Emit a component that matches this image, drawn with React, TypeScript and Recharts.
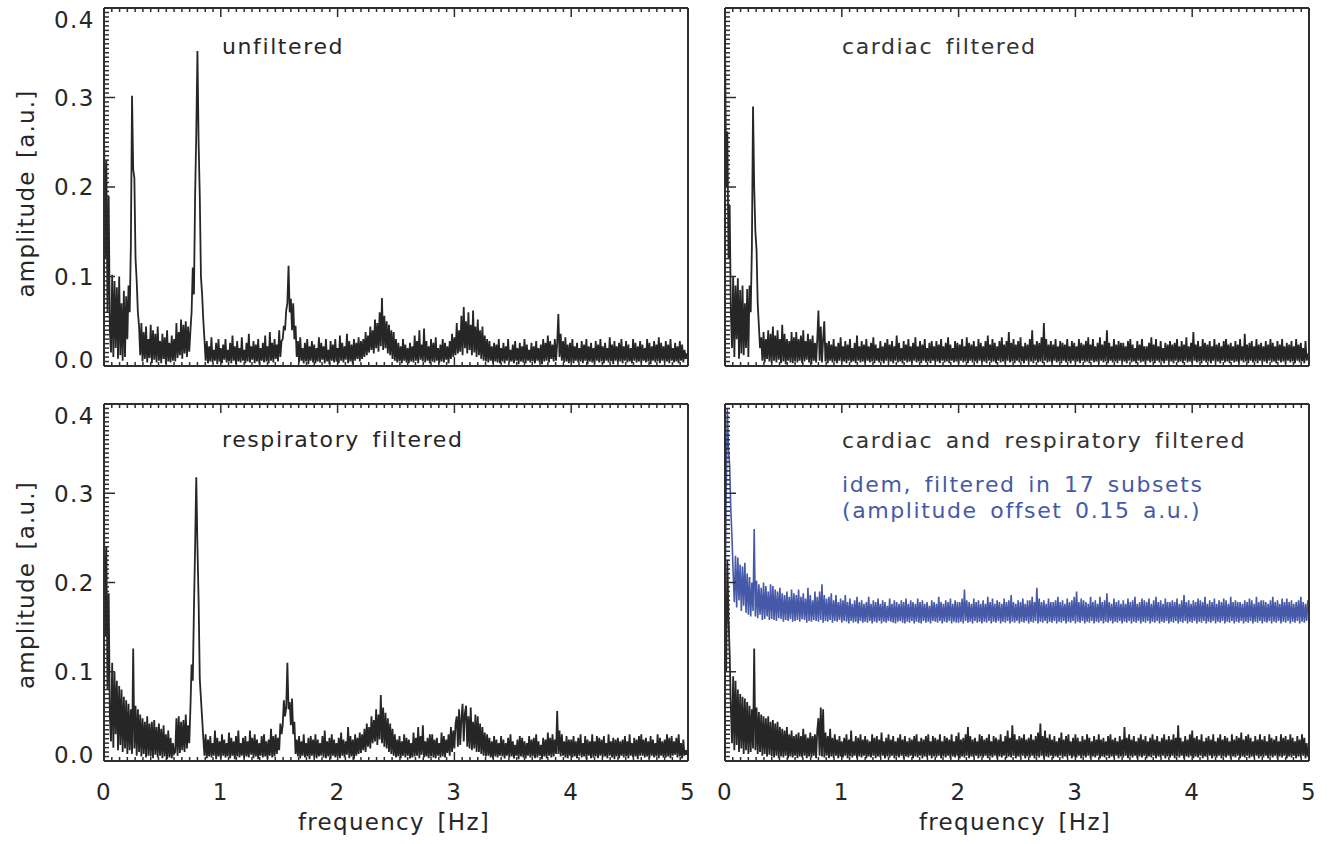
import { Line, LineChart, XAxis, YAxis } from "recharts"

const FREQ_STEP = 0.01 // Hz between samples, 0 .. 5 Hz
const X_MAJOR = [0, 1, 2, 3, 4, 5]
const Y_LABELS = ["0.0", "0.1", "0.2", "0.3", "0.4"]
const BLUE_OFFSET = 0.15

// amplitudes in thousandths of a.u., one value every 0.01 Hz (20 per row = 0.2 Hz)
const UNFILTERED = [
  270, 120, 230, 60, 190, 40, 15, 102, 10, 95, 20, 88, 8, 100, 12, 70, 6, 84, 10, 78,
  30, 90, 60, 135, 302, 220, 210, 120, 95, 60, 45, 12, 48, 5, 38, 8, 44, 4, 30, 9,
  46, 3, 40, 7, 36, 4, 44, 6, 28, 3, 36, 8, 32, 2, 40, 5, 26, 4, 34, 6,
  30, 5, 48, 9, 38, 12, 52, 8, 46, 14, 50, 10, 44, 16, 40, 60, 110, 80, 190, 260,
  352, 250, 190, 100, 80, 52, 30, 6, 28, 3, 22, 5, 32, 4, 18, 6, 26, 2, 30, 5,
  20, 3, 24, 7, 30, 4, 18, 5, 26, 3, 34, 6, 22, 2, 28, 5, 20, 4, 32, 6,
  18, 3, 26, 5, 36, 4, 22, 7, 28, 3, 24, 5, 30, 2, 20, 6, 26, 4, 34, 5,
  22, 3, 38, 6, 26, 4, 30, 8, 24, 5, 40, 10, 28, 30, 45, 40, 62, 70, 112, 60,
  75, 40, 70, 30, 45, 10, 28, 4, 32, 6, 20, 3, 26, 5, 30, 2, 22, 6, 28, 4,
  24, 3, 20, 5, 32, 4, 26, 7, 22, 3, 30, 5, 18, 2, 28, 6, 24, 4, 30, 5,
  20, 3, 34, 6, 26, 4, 22, 7, 36, 3, 28, 5, 24, 2, 30, 6, 26, 8, 32, 5,
  28, 8, 30, 10, 38, 12, 34, 15, 44, 18, 40, 14, 52, 20, 48, 16, 60, 22, 76, 18,
  56, 20, 50, 14, 46, 12, 40, 8, 38, 6, 30, 4, 26, 5, 22, 3, 30, 6, 24, 4,
  20, 3, 26, 5, 22, 4, 34, 6, 28, 3, 40, 7, 24, 5, 42, 4, 28, 6, 22, 3,
  30, 5, 26, 4, 32, 6, 20, 3, 24, 5, 30, 4, 26, 7, 22, 3, 28, 8, 36, 10,
  32, 12, 48, 14, 40, 16, 56, 12, 66, 20, 50, 14, 60, 18, 46, 12, 62, 15, 44, 10,
  52, 12, 40, 8, 44, 6, 34, 5, 30, 4, 28, 6, 22, 3, 26, 5, 24, 4, 30, 3,
  20, 5, 26, 3, 22, 6, 30, 4, 18, 5, 24, 3, 28, 6, 20, 2, 26, 5, 22, 4,
  30, 3, 24, 6, 18, 4, 26, 5, 22, 3, 28, 6, 20, 4, 24, 2, 30, 5, 26, 6,
  34, 4, 28, 8, 24, 5, 30, 6, 26, 58, 10, 36, 6, 28, 4, 32, 5, 24, 3, 26,
  5, 30, 3, 22, 6, 26, 4, 20, 5, 28, 3, 24, 6, 30, 2, 22, 5, 26, 4, 20,
  3, 28, 6, 24, 4, 30, 5, 22, 3, 26, 6, 20, 4, 32, 5, 24, 2, 28, 6, 22,
  4, 26, 5, 30, 3, 22, 6, 28, 4, 24, 5, 20, 3, 30, 6, 26, 4, 22, 5, 28,
  3, 24, 6, 20, 4, 30, 5, 26, 2, 22, 6, 28, 4, 24, 5, 32, 3, 26, 6, 22,
  4, 28, 5, 24, 3, 30, 6, 20, 4, 26, 5, 22, 3, 28, 6, 24, 4, 18, 8, 14,
  6,
]

const CARDIAC = [
  366, 200, 262, 120, 180, 60, 20, 100, 10, 90, 30, 98, 8, 85, 14, 90, 12, 70, 20, 86,
  10, 90, 60, 130, 290, 200, 150, 130, 70, 45, 20, 32, 6, 38, 4, 30, 8, 40, 5, 36,
  3, 44, 6, 34, 4, 40, 7, 30, 3, 46, 5, 36, 2, 30, 6, 28, 4, 38, 3, 32,
  5, 38, 4, 30, 6, 34, 3, 40, 5, 28, 7, 36, 4, 30, 2, 34, 6, 26, 4, 30,
  62, 6, 44, 4, 30, 50, 5, 26, 3, 28, 6, 24, 4, 30, 5, 22, 3, 26, 6, 32,
  4, 22, 5, 28, 3, 24, 6, 30, 4, 20, 5, 26, 3, 34, 6, 22, 4, 28, 5, 24,
  3, 30, 6, 22, 4, 26, 5, 32, 3, 24, 6, 20, 4, 28, 5, 22, 3, 26, 6, 30,
  4, 24, 5, 28, 3, 22, 6, 34, 4, 26, 5, 20, 3, 28, 6, 24, 4, 30, 5, 22,
  3, 26, 6, 32, 4, 22, 5, 28, 3, 24, 6, 30, 4, 20, 5, 26, 3, 28, 6, 22,
  4, 28, 5, 24, 3, 30, 6, 22, 4, 26, 5, 32, 3, 24, 6, 20, 4, 28, 5, 26,
  3, 24, 6, 30, 4, 22, 5, 32, 3, 26, 6, 24, 4, 28, 5, 22, 3, 30, 6, 26,
  4, 22, 5, 28, 3, 34, 6, 24, 4, 30, 5, 26, 3, 22, 6, 28, 4, 32, 5, 24,
  3, 28, 6, 38, 4, 26, 5, 30, 3, 24, 6, 28, 4, 32, 5, 22, 3, 26, 6, 24,
  4, 30, 5, 40, 3, 24, 6, 28, 4, 26, 5, 32, 3, 48, 6, 30, 4, 24, 5, 28,
  3, 24, 6, 30, 4, 22, 5, 28, 3, 26, 6, 24, 4, 30, 5, 22, 3, 28, 6, 26,
  4, 22, 5, 30, 3, 26, 6, 24, 4, 28, 5, 32, 3, 24, 6, 30, 4, 22, 5, 26,
  3, 32, 6, 24, 4, 28, 5, 40, 3, 26, 6, 22, 4, 30, 5, 24, 3, 28, 6, 26,
  4, 26, 5, 22, 3, 28, 6, 30, 4, 24, 5, 20, 3, 28, 6, 24, 4, 30, 5, 22,
  3, 22, 6, 26, 4, 32, 5, 24, 3, 30, 6, 22, 4, 28, 5, 20, 3, 26, 6, 24,
  4, 28, 5, 24, 3, 26, 6, 30, 4, 22, 5, 28, 3, 24, 6, 32, 4, 22, 5, 26,
  3, 38, 6, 24, 4, 28, 5, 22, 3, 30, 6, 26, 4, 24, 5, 28, 3, 22, 6, 30,
  4, 24, 5, 26, 3, 22, 6, 28, 4, 30, 5, 24, 3, 26, 6, 22, 4, 28, 5, 24,
  3, 30, 6, 22, 4, 36, 5, 24, 3, 26, 6, 28, 4, 22, 5, 30, 3, 24, 6, 26,
  4, 22, 5, 28, 3, 24, 6, 30, 4, 26, 5, 22, 3, 28, 6, 24, 4, 30, 5, 22,
  3, 26, 6, 24, 4, 28, 5, 22, 3, 30, 6, 24, 4, 26, 5, 20, 3, 28, 6, 12,
  10,
]

const RESPIRATORY = [
  270, 140, 240, 80, 188, 50, 22, 110, 15, 100, 30, 90, 12, 84, 18, 80, 10, 72, 14, 68,
  8, 64, 12, 58, 8, 126, 14, 62, 6, 58, 10, 52, 5, 48, 8, 44, 4, 50, 6, 42,
  5, 44, 3, 46, 7, 38, 4, 42, 6, 36, 3, 40, 5, 30, 2, 34, 4, 26, 3, 20,
  8, 10, 48, 6, 50, 9, 44, 12, 46, 10, 52, 14, 40, 20, 60, 108, 90, 170, 240, 318,
  240, 180, 92, 70, 48, 26, 6, 30, 3, 24, 5, 28, 4, 20, 6, 34, 2, 26, 5, 22,
  3, 30, 6, 24, 4, 20, 5, 32, 3, 26, 6, 22, 2, 28, 5, 34, 4, 20, 6, 26,
  3, 28, 5, 22, 4, 34, 7, 26, 3, 30, 5, 24, 2, 20, 6, 28, 4, 30, 5, 22,
  3, 24, 6, 36, 4, 28, 5, 30, 8, 26, 12, 42, 30, 40, 68, 50, 60, 110, 58, 66,
  40, 70, 30, 44, 8, 24, 5, 28, 3, 22, 6, 30, 4, 20, 5, 26, 2, 28, 6, 24,
  4, 30, 3, 24, 5, 20, 6, 28, 4, 34, 3, 22, 5, 26, 2, 30, 6, 24, 4, 20,
  5, 26, 3, 32, 6, 24, 4, 22, 7, 38, 3, 28, 5, 24, 2, 30, 6, 26, 8, 32,
  9, 30, 12, 36, 10, 42, 16, 38, 14, 50, 20, 46, 22, 58, 18, 52, 24, 74, 20, 60,
  16, 54, 14, 48, 10, 42, 8, 36, 6, 30, 4, 24, 5, 28, 3, 22, 6, 30, 4, 26,
  6, 24, 3, 20, 4, 32, 5, 26, 6, 38, 3, 28, 7, 40, 4, 22, 5, 26, 3, 30,
  5, 30, 4, 24, 3, 26, 6, 20, 4, 32, 5, 28, 4, 24, 9, 30, 6, 38, 10, 34,
  14, 42, 50, 16, 58, 18, 48, 64, 22, 54, 62, 16, 50, 14, 60, 12, 44, 14, 52, 10,
  50, 10, 42, 8, 38, 6, 32, 5, 30, 6, 26, 4, 22, 3, 28, 5, 24, 4, 20, 6,
  28, 5, 24, 3, 20, 6, 26, 4, 30, 5, 22, 3, 18, 6, 24, 2, 28, 5, 26, 4,
  22, 3, 20, 6, 28, 4, 24, 5, 26, 3, 30, 4, 22, 6, 18, 2, 26, 5, 24, 3,
  32, 6, 26, 4, 30, 5, 24, 8, 56, 8, 34, 5, 30, 6, 22, 4, 28, 3, 24, 6,
  24, 4, 28, 5, 22, 3, 26, 6, 30, 4, 20, 5, 28, 2, 24, 6, 22, 3, 30, 4,
  22, 5, 28, 3, 26, 6, 24, 4, 28, 5, 20, 3, 30, 6, 22, 4, 26, 2, 24, 5,
  26, 3, 22, 6, 24, 4, 28, 5, 22, 3, 30, 6, 20, 4, 26, 5, 24, 2, 28, 6,
  30, 6, 24, 4, 26, 5, 22, 3, 28, 6, 24, 4, 20, 5, 30, 3, 26, 6, 22, 4,
  24, 4, 30, 5, 26, 3, 28, 6, 22, 7, 26, 4, 30, 5, 20, 3, 24, 6, 12, 7,
  14,
]

const CARDIAC_RESP = [
  150, 100, 225, 160, 120, 60, 20, 95, 12, 90, 18, 80, 10, 75, 14, 72, 8, 70, 12, 66,
  8, 62, 10, 58, 14, 126, 12, 60, 8, 55, 10, 52, 6, 50, 8, 48, 5, 50, 7, 44,
  5, 46, 4, 42, 6, 44, 3, 38, 5, 36, 4, 34, 6, 38, 3, 30, 5, 34, 4, 28,
  6, 30, 3, 32, 5, 28, 4, 36, 6, 30, 3, 26, 5, 32, 4, 28, 6, 30, 3, 34,
  48, 6, 60, 5, 58, 4, 32, 6, 28, 3, 36, 5, 26, 4, 30, 6, 24, 3, 28, 5,
  22, 4, 26, 6, 30, 3, 24, 5, 34, 4, 22, 6, 28, 3, 26, 5, 30, 4, 24, 6,
  28, 3, 24, 5, 22, 4, 30, 6, 26, 3, 28, 5, 24, 4, 32, 6, 22, 3, 26, 5,
  30, 4, 24, 6, 28, 3, 22, 5, 26, 4, 30, 6, 24, 3, 28, 5, 22, 4, 26, 6,
  24, 3, 28, 5, 30, 4, 22, 6, 26, 3, 24, 5, 28, 4, 30, 6, 22, 3, 28, 5,
  26, 4, 24, 6, 30, 3, 22, 5, 28, 4, 26, 6, 24, 3, 30, 5, 22, 4, 28, 6,
  32, 3, 24, 5, 26, 4, 30, 6, 38, 3, 28, 5, 24, 4, 26, 6, 22, 3, 30, 5,
  28, 4, 24, 6, 26, 3, 30, 5, 22, 4, 28, 6, 26, 3, 24, 5, 30, 4, 22, 6,
  28, 3, 34, 5, 26, 4, 40, 6, 30, 3, 24, 5, 28, 4, 26, 6, 30, 3, 24, 5,
  26, 4, 30, 6, 24, 3, 28, 5, 32, 4, 42, 6, 28, 3, 34, 5, 26, 4, 30, 6,
  24, 3, 28, 5, 22, 4, 26, 6, 32, 3, 24, 5, 28, 4, 30, 6, 22, 3, 26, 5,
  30, 4, 26, 6, 22, 3, 28, 5, 24, 4, 30, 6, 26, 3, 22, 5, 28, 4, 24, 6,
  30, 3, 24, 5, 26, 4, 22, 6, 28, 3, 30, 5, 24, 4, 26, 6, 22, 3, 28, 5,
  24, 4, 38, 6, 26, 3, 30, 5, 24, 4, 28, 6, 22, 3, 26, 5, 30, 4, 24, 6,
  28, 3, 22, 5, 26, 4, 30, 6, 24, 3, 28, 5, 22, 4, 26, 6, 30, 3, 24, 5,
  28, 4, 24, 6, 30, 3, 26, 5, 40, 4, 26, 6, 22, 3, 28, 5, 24, 4, 30, 6,
  34, 3, 26, 5, 28, 4, 24, 6, 30, 3, 22, 5, 26, 4, 28, 6, 24, 3, 30, 5,
  22, 4, 26, 6, 30, 3, 24, 5, 28, 4, 26, 6, 22, 3, 30, 5, 24, 4, 28, 6,
  26, 3, 32, 5, 24, 4, 28, 6, 30, 3, 26, 5, 22, 4, 28, 6, 24, 3, 30, 5,
  24, 4, 28, 6, 22, 3, 30, 5, 26, 4, 24, 6, 28, 3, 22, 5, 30, 4, 26, 6,
  28, 3, 24, 5, 30, 4, 26, 6, 22, 3, 28, 5, 24, 4, 30, 6, 26, 3, 20, 5,
  8,
]

// 17-subset version, before the 0.15 a.u. offset is added
const SUBSETS = [
  20, 150, 245, 200, 180, 130, 100, 60, 28, 80, 22, 78, 30, 70, 18, 68, 24, 72, 16, 60,
  14, 56, 12, 50, 18, 110, 12, 52, 10, 48, 14, 44, 8, 50, 9, 46, 12, 40, 8, 48,
  9, 46, 8, 42, 7, 40, 10, 44, 9, 38, 6, 36, 8, 40, 7, 34, 9, 42, 6, 38,
  7, 36, 8, 42, 6, 34, 9, 38, 8, 32, 5, 44, 7, 36, 6, 30, 8, 40, 7, 34,
  6, 40, 8, 48, 5, 36, 7, 32, 6, 34, 8, 38, 5, 30, 7, 36, 6, 28, 8, 32,
  5, 30, 7, 36, 6, 28, 4, 32, 7, 26, 5, 30, 6, 34, 4, 28, 7, 30, 5, 26,
  6, 28, 5, 34, 7, 26, 4, 30, 6, 28, 5, 32, 7, 26, 4, 30, 6, 28, 5, 24,
  7, 32, 6, 26, 5, 30, 4, 28, 6, 26, 7, 30, 5, 28, 4, 32, 6, 26, 5, 30,
  7, 28, 4, 26, 6, 32, 5, 28, 4, 30, 7, 26, 5, 28, 6, 24, 4, 30, 7, 28,
  6, 26, 5, 34, 7, 28, 4, 26, 6, 30, 5, 28, 7, 32, 4, 26, 6, 30, 5, 28,
  5, 28, 6, 32, 4, 42, 7, 30, 5, 28, 6, 26, 4, 32, 7, 28, 5, 30, 6, 26,
  4, 30, 6, 26, 5, 34, 7, 28, 4, 32, 6, 26, 5, 30, 7, 28, 4, 26, 6, 32,
  5, 28, 7, 30, 4, 36, 6, 28, 5, 26, 7, 30, 4, 28, 6, 32, 5, 26, 7, 30,
  4, 30, 6, 34, 5, 28, 7, 44, 4, 32, 6, 28, 5, 30, 7, 26, 4, 32, 6, 28,
  5, 28, 7, 30, 4, 34, 6, 28, 5, 30, 7, 26, 4, 32, 6, 28, 5, 30, 7, 34,
  4, 40, 6, 28, 5, 32, 7, 30, 4, 28, 6, 26, 5, 34, 7, 28, 4, 30, 6, 26,
  5, 34, 7, 28, 4, 30, 6, 38, 5, 28, 7, 26, 4, 32, 6, 28, 5, 30, 7, 26,
  4, 30, 6, 26, 5, 32, 7, 28, 4, 30, 6, 34, 5, 26, 7, 28, 4, 32, 6, 30,
  5, 28, 7, 32, 4, 26, 6, 30, 5, 34, 7, 28, 4, 30, 6, 26, 5, 32, 7, 28,
  4, 28, 6, 30, 5, 28, 7, 32, 4, 26, 6, 30, 5, 36, 7, 28, 4, 30, 6, 26,
  5, 30, 7, 28, 4, 32, 6, 30, 5, 28, 7, 34, 4, 26, 6, 30, 5, 28, 7, 32,
  4, 26, 6, 30, 5, 28, 7, 32, 4, 30, 6, 26, 5, 34, 7, 28, 4, 30, 6, 28,
  5, 28, 7, 26, 4, 30, 6, 28, 5, 32, 7, 30, 4, 26, 6, 34, 5, 28, 7, 30,
  4, 30, 6, 28, 5, 26, 7, 30, 4, 34, 6, 28, 5, 30, 7, 26, 4, 32, 6, 28,
  5, 32, 7, 28, 4, 30, 6, 26, 5, 28, 7, 30, 4, 34, 6, 28, 5, 26, 7, 30,
  18,
]

const INK = "#262626"
const AXIS = "#2e2e2e"
const BLUE = "#4659a8"
const FONT = "'DejaVu Sans', sans-serif"

const X_TICKS = Array.from({ length: 76 }, (_, i) => i / 15)
const Y_TICKS = Array.from({ length: 81 }, (_, i) => i / 200)

const toRows = (main: number[], extra?: number[]) =>
  main.map((v, i) => ({
    f: Math.round(i * FREQ_STEP * 100) / 100,
    a: v / 1000,
    b: extra ? extra[i] / 1000 + BLUE_OFFSET : undefined,
  }))

const isMajorX = (v: number) => X_MAJOR.some((m) => Math.abs(m - v) < 1e-6)

const xTick = (side: "top" | "bottom", labels: boolean) => (props: any) => {
  const { x, y, payload } = props
  const v = payload.value as number
  const major = isMajorX(v)
  const len = major ? 9 : 4
  const dir = side === "bottom" ? -1 : 1
  return (
    <g>
      <line x1={x} x2={x} y1={y} y2={y + dir * len} stroke={AXIS} strokeWidth={1.5} />
      {labels && major && (
        <text x={x} y={y + 39} textAnchor="middle" fontSize={23} fontFamily={FONT} fill={INK} letterSpacing={1.5}>
          {Math.round(v)}
        </text>
      )}
    </g>
  )
}

const yTick = (side: "left" | "right", labels: boolean) => (props: any) => {
  const { x, y, payload } = props
  const k = Math.round((payload.value as number) * 200)
  const major = k % 20 === 0
  const len = major ? 11 : 5
  const dir = side === "left" ? 1 : -1
  const idx = k / 20
  const dy = idx === 4 ? 12 : idx === 0 ? -6 : 0
  return (
    <g>
      <line x1={x} x2={x + dir * len} y1={y} y2={y} stroke={AXIS} strokeWidth={1.5} />
      {labels && major && (
        <text x={x - 9} y={y + dy + 8.4} textAnchor="end" fontSize={23} fontFamily={FONT} fill={INK} letterSpacing={1.5}>
          {Y_LABELS[idx]}
        </text>
      )}
    </g>
  )
}

type PanelProps = {
  left: number
  top: number
  width: number
  height: number
  margin: { top: number; right: number; bottom: number; left: number }
  data: { f: number; a: number; b?: number }[]
  yLabels: boolean
  xLabels: boolean
  blue?: boolean
}

// each axis takes 1px of room (0 is not drawn), so margins are 1px short of the plot box
function Panel({ left, top, width, height, margin, data, yLabels, xLabels, blue }: PanelProps) {
  const axisLine = { stroke: AXIS, strokeWidth: 2 }
  const m = { top: margin.top - 1, right: margin.right - 1, bottom: margin.bottom - 1, left: margin.left - 1 }
  return (
    <div style={{ position: "absolute", left, top }}>
      <LineChart width={width} height={height} margin={m} data={data}>
        <XAxis
          dataKey="f"
          type="number"
          domain={[0, 5]}
          ticks={X_TICKS}
          interval={0}
          tickSize={0}
          tickMargin={0}
          height={1}
          axisLine={axisLine}
          tickLine={false}
          tick={xTick("bottom", xLabels)}
          allowDataOverflow
        />
        <XAxis
          xAxisId="top"
          orientation="top"
          dataKey="f"
          type="number"
          domain={[0, 5]}
          ticks={X_TICKS}
          interval={0}
          tickSize={0}
          tickMargin={0}
          height={1}
          axisLine={axisLine}
          tickLine={false}
          tick={xTick("top", false)}
        />
        <YAxis
          type="number"
          domain={[0, 0.4]}
          ticks={Y_TICKS}
          interval={0}
          tickSize={0}
          tickMargin={0}
          width={1}
          axisLine={axisLine}
          tickLine={false}
          tick={yTick("left", yLabels)}
          allowDataOverflow
        />
        <YAxis
          yAxisId="right"
          orientation="right"
          type="number"
          domain={[0, 0.4]}
          ticks={Y_TICKS}
          interval={0}
          tickSize={0}
          tickMargin={0}
          width={1}
          axisLine={axisLine}
          tickLine={false}
          tick={yTick("right", false)}
        />
        <Line
          type="linear"
          dataKey="a"
          stroke={INK}
          strokeWidth={1.8}
          dot={false}
          activeDot={false}
          isAnimationActive={false}
        />
        {blue && (
          <Line
            type="linear"
            dataKey="b"
            stroke={BLUE}
            strokeWidth={1.6}
            dot={false}
            activeDot={false}
            isAnimationActive={false}
          />
        )}
      </LineChart>
    </div>
  )
}

const titleStyle = { fontFamily: FONT, fontSize: 22, letterSpacing: 1.6, wordSpacing: 4 }
const axisTitleStyle = { fontFamily: FONT, fontSize: 23, wordSpacing: 4 }

export default function App() {
  const topMargin = (l: number, r: number) => ({ top: 8, right: r, bottom: 34, left: l })
  const botMargin = (l: number, r: number) => ({ top: 14, right: r, bottom: 83, left: l })
  return (
    <div style={{ position: "absolute", left: 0, top: 0, width: 1331, height: 844, background: "#fff" }}>
      <Panel left={0} top={0} width={700} height={400} margin={topMargin(104, 12)} data={toRows(UNFILTERED)} yLabels xLabels={false} />
      <Panel left={700} top={0} width={631} height={400} margin={topMargin(25, 22)} data={toRows(CARDIAC)} yLabels={false} xLabels={false} />
      <Panel left={0} top={390} width={700} height={454} margin={botMargin(104, 12)} data={toRows(RESPIRATORY)} yLabels xLabels />
      <Panel left={700} top={390} width={631} height={454} margin={botMargin(25, 22)} data={toRows(CARDIAC_RESP, SUBSETS)} yLabels={false} xLabels blue />
      <svg width={1331} height={844} style={{ position: "absolute", left: 0, top: 0, pointerEvents: "none" }}>
        <text x={222} y={54} fill={INK} {...titleStyle}>unfiltered</text>
        <text x={842} y={53.5} fill="#333" {...titleStyle}>cardiac filtered</text>
        <text x={222} y={447} fill={INK} {...titleStyle}>respiratory filtered</text>
        <text x={842} y={448} fill="#333" {...titleStyle}>cardiac and respiratory filtered</text>
        <text x={842} y={492} fill={BLUE} {...titleStyle}>idem, filtered in 17 subsets</text>
        <text x={842} y={518} fill={BLUE} {...titleStyle}>(amplitude offset 0.15 a.u.)</text>
        <text transform="translate(33.5,193.5) rotate(-90)" textAnchor="middle" fill={INK} letterSpacing={1.2} {...axisTitleStyle}>
          amplitude [a.u.]
        </text>
        <text transform="translate(33.5,585) rotate(-90)" textAnchor="middle" fill={INK} letterSpacing={1.2} {...axisTitleStyle}>
          amplitude [a.u.]
        </text>
        <text x={394} y={830} textAnchor="middle" fill={INK} letterSpacing={1.3} {...axisTitleStyle}>
          frequency [Hz]
        </text>
        <text x={1015} y={830} textAnchor="middle" fill={INK} letterSpacing={1.3} {...axisTitleStyle}>
          frequency [Hz]
        </text>
      </svg>
    </div>
  )
}
